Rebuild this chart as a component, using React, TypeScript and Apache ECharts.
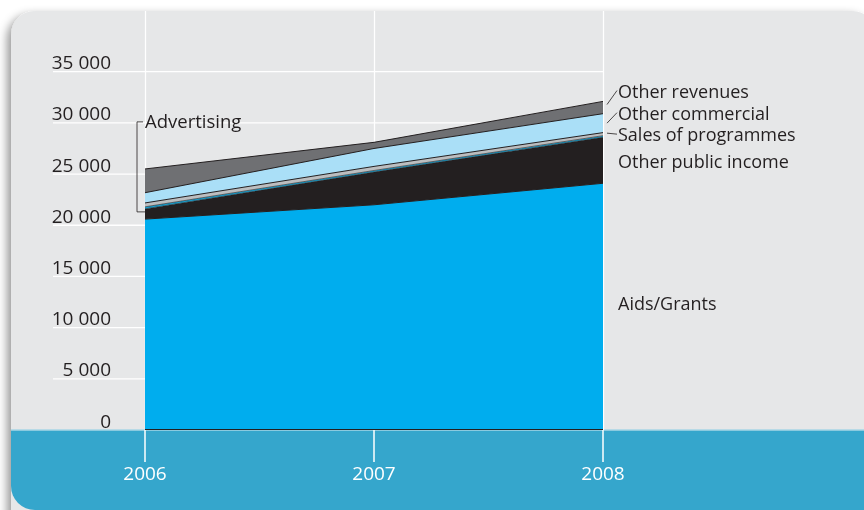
import React, { useEffect, useRef } from 'react';
import * as echarts from 'echarts';

const years = ['2006', '2007', '2008'];
const aidsGrants = [20600, 22000, 24100];
const otherPublicIncome = [1000, 3200, 4500];
const advertising = [200, 150, 150];
const salesOfProgrammes = [380, 400, 300];
const otherCommercial = [1000, 1750, 1850];
const otherRevenues = [2320, 600, 1200];
const yTicks = [0, 5000, 10000, 15000, 20000, 25000, 30000, 35000];

const FONT = '"Open Sans", "Liberation Sans", sans-serif';
const INK = '#231f20';

const layers = [
  { name: 'Aids/Grants', data: aidsGrants, color: '#00adee', lw: 1 },
  { name: 'Other public income', data: otherPublicIncome, color: '#231f20', lw: 0.6 },
  { name: 'Advertising', data: advertising, color: '#1ba1cf', lw: 0.6 },
  { name: 'Sales of programmes', data: salesOfProgrammes, color: '#bcbec0', lw: 1 },
  { name: 'Other commercial', data: otherCommercial, color: '#aadff7', lw: 1 },
  { name: 'Other revenues', data: otherRevenues, color: '#6f7073', lw: 1 },
];

export default function App() {
  const ref = useRef<HTMLDivElement>(null);
  useEffect(() => {
    const el = ref.current!;
    const chart = echarts.init(el, null, { renderer: 'svg' });
    const series: any[] = layers.map((l) => ({
      type: 'line',
      name: l.name,
      stack: 'total',
      data: l.data,
      symbol: 'none',
      z: 2,
      lineStyle: { color: INK, width: l.lw },
      areaStyle: { color: l.color, opacity: 1 },
    }));
    chart.setOption({
      animation: false,
      grid: { left: 145, right: 261, top: 11, bottom: 80 },
      xAxis: {
        type: 'category',
        data: years,
        boundaryGap: false,
        axisLine: { show: false },
        splitLine: { show: true, lineStyle: { color: '#ffffff', width: 1.3 } },
        axisTick: {
          show: true,
          length: 32,
          lineStyle: { color: '#ffffff', width: 1.5 },
        },
        axisLabel: {
          color: '#ffffff',
          fontSize: 19,
          fontFamily: FONT,
          margin: 33,
        },
      },
      yAxis: {
        type: 'value',
        min: 0,
        max: 40930,
        interval: 5000,
        axisLine: { show: false },
        axisTick: { show: false },
        splitLine: { show: false },
        axisLabel: {
          verticalAlign: 'bottom',
          margin: 34,
          color: INK,
          fontSize: 19,
          fontFamily: FONT,
          formatter: (v: number) => (v > 35000 ? '' : v === 0 ? '0' : `${v / 1000} 000`),
        },
      },
      series,
    });

    const px = (i: number, y: number) => chart.convertToPixel({ gridIndex: 0 }, [i, y]) as number[];
    const stacks: { bottom: number[]; top: number[] }[] = [];
    let acc = years.map(() => 0);
    layers.forEach((l) => {
      const bottom = acc.slice();
      acc = acc.map((a, i) => a + l.data[i]);
      stacks.push({ bottom, top: acc.slice() });
    });
    const last = years.length - 1;
    const xEnd = px(last, 0)[0];
    const xStart = px(0, 0)[0];
    const y0 = px(0, 0)[1];
    const mid = (li: number, idx: number) =>
      (px(idx, stacks[li].bottom[idx])[1] + px(idx, stacks[li].top[idx])[1]) / 2;

    const rightLabels = [
      { layer: 5, dy: -17, leader: true, sdy: -3 },
      { layer: 4, dy: -10.5, leader: true, sdy: 0 },
      { layer: 3, dy: 0, leader: true, sdy: -1 },
      { layer: 1, dy: 1, leader: false, sdy: 0 },
      { layer: 0, dy: -4, leader: false, sdy: 0 },
    ];
    const labelX = xEnd + 15;
    const graphics: any[] = [
      {
        type: 'rect',
        z: -10,
        silent: true,
        shape: { x: 11, y: 11, width: 865, height: 560, r: 24 },
        style: {
          fill: '#e6e7e8',
          shadowBlur: 10,
          shadowOffsetX: -4,
          shadowOffsetY: 4,
          shadowColor: 'rgba(0,0,0,0.4)',
        },
      },
      {
        type: 'rect',
        z: -9,
        silent: true,
        shape: { x: 11, y: y0, width: 880, height: 510 - y0, r: [0, 0, 0, 24] },
        style: { fill: '#35a6cc' },
      },
      {
        type: 'line',
        z: -8,
        silent: true,
        shape: { x1: 11, y1: y0, x2: 864, y2: y0 },
        style: { stroke: '#a9d6e6', lineWidth: 1.5 },
      },
      ...yTicks.slice(1).map((v) => {
        const gy = px(0, v)[1];
        return {
          type: 'line',
          z: -5,
          silent: true,
          shape: { x1: 53, y1: gy, x2: xEnd, y2: gy },
          style: { stroke: '#ffffff', lineWidth: 1.3 },
        };
      }),
      {
        type: 'line',
        z: 10,
        silent: true,
        shape: { x1: xStart, y1: y0 - 0.5, x2: xEnd, y2: y0 - 0.5 },
        style: { stroke: INK, lineWidth: 1 },
      },
    ];
    rightLabels.forEach((r) => {
      const m = mid(r.layer, last);
      const ly = m + r.dy;
      graphics.push({
        type: 'text',
        z: 10,
        silent: true,
        x: labelX,
        y: ly,
        style: {
          text: layers[r.layer].name,
          fill: INK,
          font: `18px ${FONT}`,
          lineHeight: 18,
          textAlign: 'left',
          textVerticalAlign: 'middle',
        },
      });
      if (r.leader) {
        graphics.push({
          type: 'line',
          z: 10,
          silent: true,
          shape: { x1: xEnd + 4, y1: m + r.sdy, x2: labelX - 1, y2: ly },
          style: { stroke: INK, lineWidth: 0.8 },
        });
      }
    });
    const advBottom = px(0, stacks[2].bottom[0])[1] + 3;
    const advTop = px(0, 30000)[1] - 1;
    const bx = xStart - 8;
    graphics.push(
      {
        type: 'polyline',
        z: 10,
        silent: true,
        shape: { points: [[bx + 6, advTop], [bx, advTop], [bx, advBottom], [xStart, advBottom]] },
        style: { stroke: INK, lineWidth: 0.8, fill: 'none' },
      },
      {
        type: 'text',
        z: 10,
        silent: true,
        x: xStart,
        y: advTop - 1,
        style: {
          text: layers[2].name,
          fill: INK,
          font: `18.5px ${FONT}`,
          lineHeight: 18,
          textAlign: 'left',
          textVerticalAlign: 'middle',
        },
      }
    );
    chart.setOption({ graphic: graphics });
    return () => chart.dispose();
  }, []);
  return <div ref={ref} style={{ position: 'fixed', left: 0, top: 0, width: 864, height: 510 }} />;
}
